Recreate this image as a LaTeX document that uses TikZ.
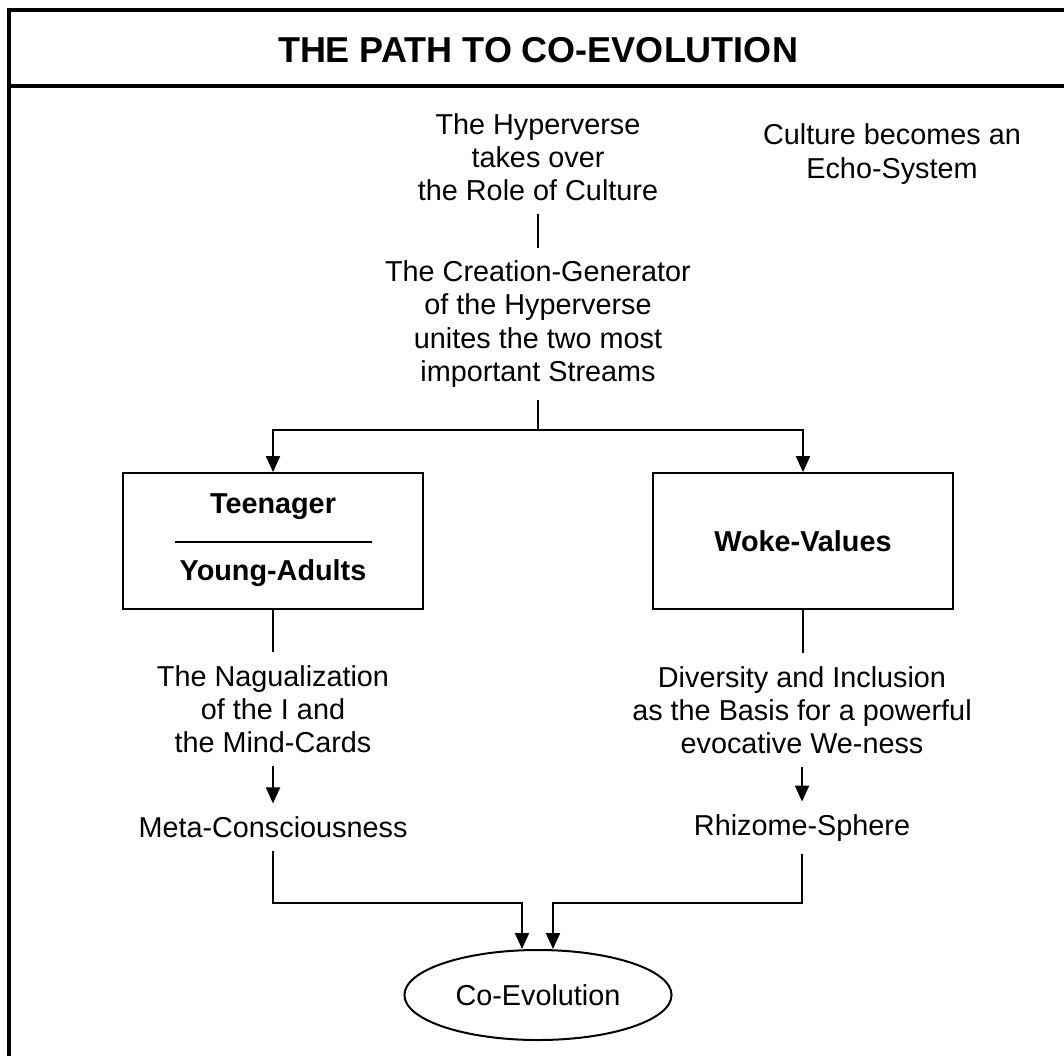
\documentclass[tikz,border=0pt]{standalone}
\usepackage{fontspec}
\setmainfont{Liberation Sans}
\usetikzlibrary{arrows.meta,shapes.geometric}
\begin{document}
\begin{tikzpicture}[x=0.5pt,y=-0.5pt,line width=1pt,
        txt/.style={align=center,inner sep=6pt,font=\fontsize{14.4}{16.6}\selectfont},
        bold/.style={txt,font=\fontsize{14.4}{16.6}\selectfont\bfseries},
        box/.style={draw,line width=0.9pt,minimum width=150pt,minimum height=68pt},
        arr/.style={-{Triangle[length=8pt,width=7pt]}}]
        \useasboundingbox (0,0) rectangle (1064,1055);
        \clip (0,0) rectangle (1064,1055);
        \draw[line width=2pt] (9,10) rectangle (1100,1100);
        \draw[line width=2pt] (9,86) -- (1100,86);
        \node (title) at (538,50) [font=\fontsize{18}{20}\selectfont\bfseries] {THE PATH TO CO-EVOLUTION};

        \node (hyper) at (538,157) [txt] {The Hyperverse\\takes over\\the Role of Culture};
        \node (culture) at (892,154) [txt] {Culture becomes an\\Echo-System};
        \node (creation) at (538,324) [txt] {The Creation-Generator\\of the Hyperverse\\unites the two most\\important Streams};
        \draw (hyper) -- (creation);

        \node (teenbox) at (273,541) [box] {};
        \node (teen) at (273,507) [bold] {Teenager};
        \node (young) at (273,573) [bold] {Young-Adults};
        \draw[line width=0.9pt] (175,542) -- (372,542);
        \node (woke) at (803,541) [box,bold] {Woke-Values};

        \coordinate (split) at (538,430);
        \draw (creation) -- (split);
        \draw[arr] (split) -| (teenbox);
        \draw[arr] (split) -| (woke);

        \node (nagual) at (273,709) [txt] {The Nagualization\\of the I and\\the Mind-Cards};
        \node (meta) at (273,827) [txt] {Meta-Consciousness};
        \node (diversity) at (802,710) [txt] {Diversity and Inclusion\\as the Basis for a powerful\\evocative We-ness};
        \node (rhizome) at (802,828) [txt] {Rhizome-Sphere};
        \draw (teenbox) -- (nagual);
        \draw (woke.south) -- (diversity.north -| woke.south);
        \draw[arr] (nagual) -- (meta);
        \draw[arr] (diversity) -- (rhizome);

        \node (coevo) at (538,995) [draw,ellipse,inner sep=0pt,minimum width=130.5pt,minimum height=45pt,txt] {Co-Evolution};
        \coordinate (joinL) at (522,903);
        \coordinate (joinR) at (553,903);
        \draw[arr] (meta) |- (joinL) -- (joinL |- coevo.north);
        \draw[arr] (rhizome) |- (joinR) -- (joinR |- coevo.north);
        \end{tikzpicture}
\end{document}
